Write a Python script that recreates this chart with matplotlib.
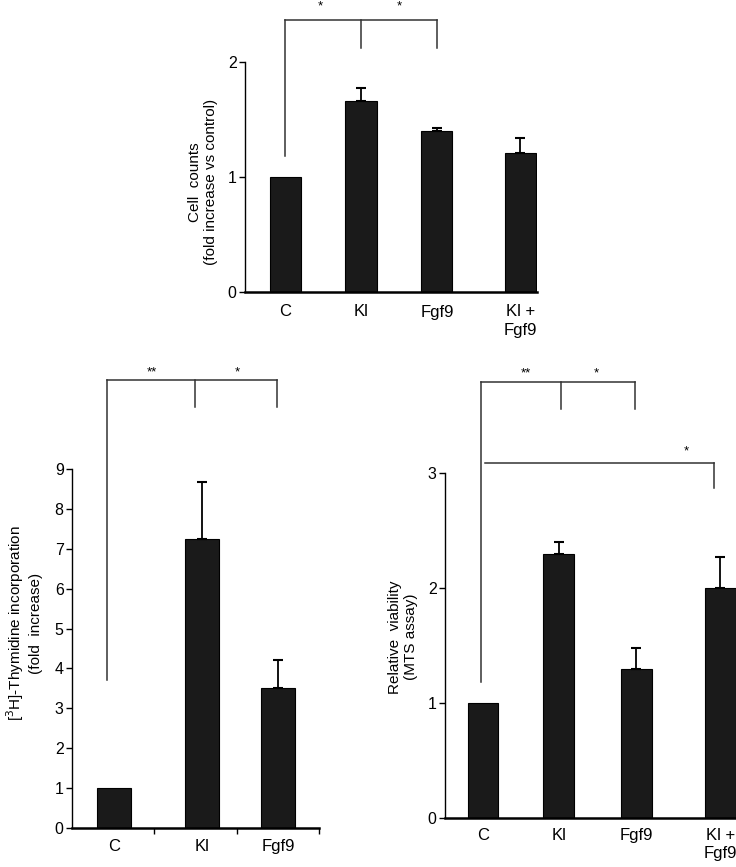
import numpy as np
import matplotlib
matplotlib.use("Agg")
import matplotlib.pyplot as plt

plt.rcParams['font.family'] = ['Liberation Sans', 'DejaVu Sans']

# panel A: cell counts
cells_labels = ['C', 'Kl', 'Fgf9', 'Kl +\nFgf9']
cells_mean = [1.0, 1.66, 1.40, 1.21]
cells_err = [0.0, 0.11, 0.03, 0.13]

# panel B: thymidine incorporation
thy_labels = ['C', 'Kl', 'Fgf9']
thy_mean = [1.0, 7.24, 3.51]
thy_err = [0.0, 1.43, 0.70]

# panel C: MTS viability
mts_labels = ['C', 'Kl', 'Fgf9', 'Kl +\nFgf9']
mts_mean = [1.0, 2.30, 1.30, 2.0]
mts_err = [0.0, 0.10, 0.18, 0.27]

bar_col = '#1a1a1a'
W, H = 736, 867


def rect(x0, y0, x1, y1):
    # pixel box -> figure fraction
    return [x0 / W, 1 - y1 / H, (x1 - x0) / W, (y1 - y0) / H]


def bars(ax, pos, mean, err, width):
    ax.bar(pos, mean, width=width, color=bar_col, edgecolor='black', linewidth=0.8, zorder=2)
    # only bars that have an error value get a whisker
    idx = [i for i in range(len(err)) if err[i] > 0]
    ax.errorbar([pos[i] for i in idx], [mean[i] for i in idx],
                yerr=[np.zeros(len(idx)), [err[i] for i in idx]], fmt='none', ecolor='black',
                elinewidth=1.3, capsize=3.5, capthick=1.5, zorder=3)
    for s in ['top', 'right']:
        ax.spines[s].set_visible(False)
    ax.spines['left'].set_linewidth(1.0)
    ax.spines['bottom'].set_linewidth(1.8)
    ax.tick_params(axis='y', direction='out', length=4, width=1, labelsize=11.5, pad=2)


def bracket(ax, x0, x1, y, legs):
    ax.plot([x0, x1], [y, y], color='#333333', lw=1.1, clip_on=False)
    for lx, ly in legs:
        ax.plot([lx, lx], [y, ly], color='#333333', lw=1.1, clip_on=False)


def star(ax, x, y, s):
    ax.text(x, y, s, ha='center', va='center', fontsize=9.5, clip_on=False)


fig = plt.figure(figsize=(7.36, 8.67), dpi=100)

# ---- top panel
ax1 = fig.add_axes(rect(245, 62, 537, 292))
p1 = [0, 1, 2, 3.1]
bars(ax1, p1, cells_mean, cells_err, 0.41)
ax1.set_ylim(0, 2)
ax1.set_yticks([0, 1, 2])
ax1.set_xlim(-0.53, 3.32)
ax1.set_xticks(p1)
ax1.set_xticklabels(cells_labels, fontsize=12, va='top', linespacing=1.25)
ax1.tick_params(axis='x', length=0, pad=9)
bracket(ax1, p1[0], p1[2], 2.365, [(p1[0], 1.18), (p1[1], 2.12), (p1[2], 2.12)])
star(ax1, 0.46, 2.48, '*')
star(ax1, 1.51, 2.48, '*')
fig.text(203 / W, 1 - 182 / H, 'Cell  counts\n(fold increase vs control)', rotation=90,
         ha='center', va='center', fontsize=11, linespacing=1.25)

# ---- bottom left
ax2 = fig.add_axes(rect(72, 469, 319, 828))
p2 = [0, 1.1, 2.05]
bars(ax2, p2, thy_mean, thy_err, 0.42)
ax2.set_ylim(0, 9)
ax2.set_yticks(range(0, 10))
ax2.set_xlim(-0.525, 2.56)
ax2.set_xticks([0.5, 1.54, 2.56])
ax2.set_xticklabels([])
ax2.tick_params(axis='x', which='major', direction='out', length=4, width=1)
ax2.set_xticks(p2, minor=True)
ax2.set_xticklabels(thy_labels, minor=True, fontsize=12)
ax2.tick_params(axis='x', which='minor', length=0, pad=8)
bracket(ax2, -0.09, 2.03, 11.23, [(-0.09, 3.7), (1.01, 10.55), (2.03, 10.55)])
star(ax2, 0.475, 11.43, '**')
star(ax2, 1.54, 11.43, '*')
fig.text(24 / W, 1 - 623 / H, '[$^3$H]-Thymidine incorporation\n(fold  increase)', rotation=90,
         ha='center', va='center', fontsize=11, linespacing=1.25)

# ---- bottom right
ax3 = fig.add_axes(rect(445, 473, 736, 818))
p3 = [0, 0.96, 1.94, 3.0]
bars(ax3, p3, mts_mean, mts_err, 0.39)
ax3.set_ylim(0, 3)
ax3.set_yticks([0, 1, 2, 3])
ax3.set_xlim(-0.48, 3.2)
ax3.set_xticks(p3)
ax3.set_xticklabels(mts_labels, fontsize=12, va='top', linespacing=1.25)
ax3.tick_params(axis='x', length=0, pad=7)
bracket(ax3, -0.02, 1.92, 3.79, [(-0.02, 1.18), (0.99, 3.56), (1.92, 3.56)])
star(ax3, 0.54, 3.87, '**')
star(ax3, 1.43, 3.87, '*')
bracket(ax3, 0.03, 2.92, 3.09, [(2.92, 2.87)])
star(ax3, 2.57, 3.19, '*')
fig.text(403 / W, 1 - 637 / H, 'Relative  viability\n(MTS assay)', rotation=90,
         ha='center', va='center', fontsize=11, linespacing=1.25)

fig.savefig('out.png', dpi=100)
